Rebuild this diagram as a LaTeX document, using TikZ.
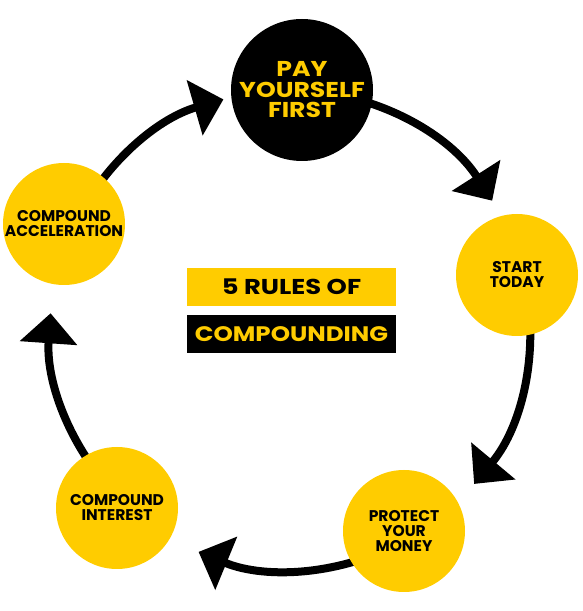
\documentclass[tikz,border=0pt]{standalone}
\usepackage{fontspec}
\setmainfont{Poppins}
\usetikzlibrary{arrows.meta,calc}
\definecolor{gold}{RGB}{255,204,0}
\begin{document}
\begin{tikzpicture}[x=1pt,y=1pt,
  stepcircle/.style={circle, fill=gold, minimum size=122pt, inner sep=0pt, align=center,
    font=\bfseries\fontsize{15.5}{15}\selectfont, text=black},
  topcircle/.style={circle, fill=black, minimum size=142pt, inner sep=0pt, align=center,
    font=\bfseries\fontsize{21.5}{20.5}\selectfont\addfontfeature{FakeStretch=1.17}, text=gold},
  flow/.style={line width=8pt, -{Triangle[width=56pt,length=30pt]}},
  titlebox/.style={minimum width=209pt, minimum height=38pt, inner sep=0pt},
]
\useasboundingbox (0,0) rectangle (582,611);
\coordinate (O) at (290,281);
% arc end points on the big ring
\coordinate (s1) at ($(O)+(87:240)$);    \coordinate (t1) at ($(O)+(32.6:240)$);
\coordinate (s2) at ($(O)+(13.6:240)$);  \coordinate (t2) at ($(O)+(-39.9:240)$);
\coordinate (s3) at ($(O)+(-60.4:240)$); \coordinate (t3) at ($(O)+(-112.4:240)$);
\coordinate (s4) at ($(O)+(-134.5:240)$);\coordinate (t4) at ($(O)+(-184:240)$);
\coordinate (s5) at ($(O)+(156.6:240)$); \coordinate (t5) at ($(O)+(106.1:240)$);
% connectors (drawn below the circles)
\draw[flow] (s1) arc[start angle=87, end angle=32.6, radius=240];
\draw[flow] (s2) arc[start angle=13.6, end angle=-39.9, radius=240];
\draw[flow] (s3) arc[start angle=-60.4, end angle=-112.4, radius=240];
\draw[flow] (s4) arc[start angle=-134.5, end angle=-184, radius=240];
\draw[flow] (s5) arc[start angle=156.6, end angle=106.1, radius=240];
% circles
\node[topcircle] (pay) at (302,521) {PAY\\YOURSELF\\FIRST};
\node[stepcircle] (start) at (517,336) {START\\TODAY};
\node[stepcircle] (protect) at (404,80) {PROTECT\\YOUR\\MONEY};
\node[stepcircle] (interest) at (117,103) {COMPOUND\\INTEREST};
\node[stepcircle] (accel) at (64,387) {COMPOUND\\ACCELERATION};
% title
\node[titlebox, fill=gold, text=black, font=\bfseries\fontsize{21.5}{22}\selectfont\addfontfeature{FakeStretch=1.2}] (rules) at (291.5,324) {5 RULES OF};
\node[titlebox, fill=black, text=gold, font=\bfseries\fontsize{21}{22}\selectfont\addfontfeature{FakeStretch=1.17}] (comp) at (291.5,277) {COMPOUNDING};
\end{tikzpicture}
\end{document}
